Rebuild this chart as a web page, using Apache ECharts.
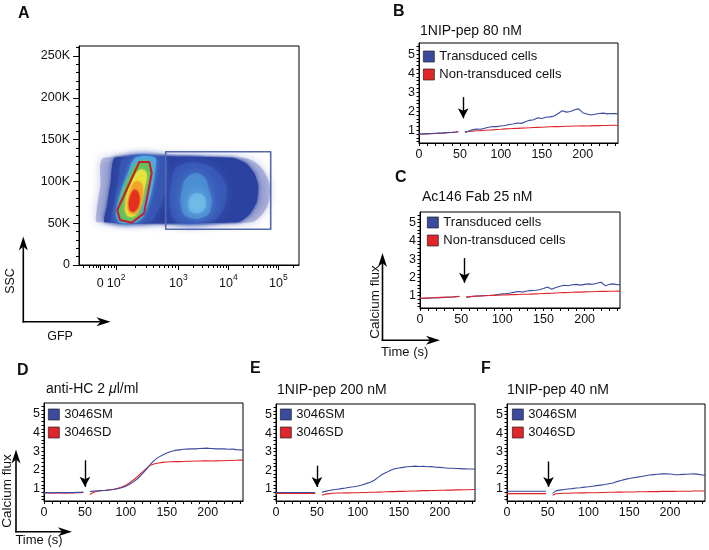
<!DOCTYPE html>
<html>
<head>
<meta charset="utf-8">
<title>Calcium flux figure</title>
<script src="https://cdn.jsdelivr.net/npm/echarts@6.0.0/dist/echarts.min.js"></script>
<style>
html,body{margin:0;padding:0;background:#fff;}
#chart{width:709px;height:550px;}
</style>
</head>
<body>
<div id="chart"></div>
<script>
// ================= DATA =================
// time points (s) shared by all calcium-flux traces (52 s = addition gap)
const time = [0,5,10,15,20,25,30,35,40,45,48,52,56,60,65,70,75,80,85,90,95,100,105,110,115,120,125,130,135,140,145,150,155,160,165,170,175,180,185,190,195,200,205,210,215,220,225,230,235,240,243];

// Panel B: 1NIP-pep 80 nM
const bTransduced = [0.80,0.81,0.82,0.83,0.84,0.85,0.86,0.88,0.89,0.91,0.93,null,0.90,
  0.94,1.02,1.06,1.05,1.10,1.16,1.20,1.19,1.22,1.25,1.30,1.33,1.38,1.36,1.45,1.52,1.55,1.65,1.62,1.68,1.70,1.75,1.88,2.02,1.95,1.98,2.08,2.12,1.92,1.85,1.80,1.84,1.88,1.90,1.86,1.88,1.87,1.85];
const bNonTransduced = [0.79,0.80,0.81,0.82,0.83,0.84,0.85,0.87,0.88,0.90,0.92,null,0.89,
  0.93,0.95,0.97,0.98,1.00,1.01,1.02,1.04,1.05,1.07,1.08,1.09,1.10,1.11,1.12,1.13,1.14,1.15,1.16,1.17,1.18,1.19,1.19,1.20,1.21,1.21,1.22,1.22,1.23,1.22,1.23,1.24,1.24,1.25,1.25,1.26,1.26,1.25];

// Panel C: Ac146 Fab 25 nM
const cTransduced = [0.85,0.86,0.87,0.88,0.89,0.90,0.91,0.92,0.93,0.95,0.96,null,0.92,
  0.94,0.97,0.99,1.00,1.01,1.02,1.04,1.07,1.10,1.12,1.15,1.20,1.23,1.20,1.26,1.28,1.30,1.33,1.40,1.48,1.36,1.45,1.52,1.57,1.55,1.60,1.62,1.58,1.62,1.65,1.63,1.68,1.74,1.55,1.62,1.65,1.60,1.62];
const cNonTransduced = [0.86,0.87,0.88,0.89,0.90,0.91,0.92,0.93,0.94,0.96,0.97,null,0.93,
  0.95,0.97,0.98,0.99,1.00,1.01,1.02,1.03,1.04,1.05,1.06,1.06,1.07,1.08,1.08,1.09,1.10,1.11,1.12,1.13,1.14,1.15,1.16,1.17,1.18,1.19,1.20,1.20,1.21,1.22,1.22,1.23,1.24,1.24,1.25,1.25,1.26,1.25];

// Panel D: anti-HC 2 µl/ml
const d3046SM = [0.78,0.78,0.77,0.78,0.78,0.77,0.78,0.78,0.79,0.80,0.81,null,0.84,
  0.86,0.87,0.89,0.90,0.92,0.95,0.99,1.04,1.12,1.24,1.38,1.55,1.78,2.02,2.30,2.52,2.68,2.80,2.90,2.98,3.04,3.07,3.10,3.11,3.12,3.12,3.14,3.15,3.16,3.14,3.12,3.13,3.12,3.10,3.11,3.08,3.07,3.06];
const d3046SD = [0.76,0.76,0.75,0.76,0.76,0.75,0.76,0.76,0.77,0.78,0.79,null,0.68,
  0.78,0.85,0.88,0.90,0.93,0.96,1.01,1.08,1.18,1.32,1.48,1.67,1.88,2.08,2.25,2.33,2.37,2.40,2.42,2.43,2.44,2.44,2.45,2.46,2.46,2.47,2.47,2.48,2.48,2.47,2.48,2.49,2.49,2.50,2.50,2.51,2.52,2.52];

// Panel E: 1NIP-pep 200 nM
const e3046SM = [0.79,0.79,0.79,0.79,0.79,0.79,0.79,0.79,0.79,0.79,0.79,null,0.80,
  0.85,0.90,0.94,0.97,1.00,1.03,1.07,1.10,1.14,1.20,1.27,1.35,1.45,1.62,1.78,1.88,2.00,2.08,2.12,2.15,2.18,2.20,2.22,2.20,2.21,2.18,2.19,2.16,2.15,2.13,2.10,2.10,2.09,2.08,2.07,2.06,2.06,2.05];
const e3046SD = [0.74,0.74,0.74,0.74,0.74,0.74,0.74,0.74,0.74,0.74,0.74,null,0.64,
  0.70,0.73,0.75,0.76,0.76,0.77,0.77,0.78,0.78,0.79,0.79,0.80,0.80,0.81,0.82,0.83,0.84,0.84,0.85,0.85,0.86,0.87,0.87,0.88,0.89,0.89,0.90,0.90,0.91,0.91,0.92,0.92,0.93,0.93,0.94,0.94,0.95,0.95];

// Panel F: 1NIP-pep 40 nM
const f3046SM = [0.86,0.86,0.86,0.86,0.86,0.86,0.86,0.86,0.86,0.86,0.86,null,0.74,
  0.88,0.92,0.95,0.98,1.00,1.03,1.05,1.08,1.10,1.13,1.16,1.19,1.22,1.26,1.30,1.38,1.44,1.50,1.55,1.59,1.62,1.66,1.70,1.74,1.76,1.78,1.80,1.80,1.79,1.76,1.75,1.77,1.78,1.79,1.80,1.77,1.74,1.73];
const f3046SD = [0.73,0.73,0.73,0.73,0.73,0.73,0.73,0.73,0.73,0.73,0.73,null,0.64,
  0.72,0.74,0.75,0.75,0.76,0.76,0.77,0.77,0.78,0.78,0.78,0.79,0.79,0.80,0.80,0.81,0.81,0.82,0.82,0.82,0.83,0.83,0.83,0.84,0.84,0.84,0.85,0.85,0.85,0.85,0.86,0.86,0.86,0.86,0.87,0.87,0.87,0.87];

// stimulus arrows (time, top value, tip value) for panels B..F
const stimulusTime = [54, 54, 50, 50, 51];
const stimulusArrowTop = [2.74, 3.06, 2.51, 2.24, 2.47];
const stimulusArrowTip = [1.63, 1.71, 1.09, 1.09, 1.09];

// tick labels
const fluxTickValues = [1, 2, 3, 4, 5];
const timeTickValues = [0, 50, 100, 150, 200];
const sscTickValues = [0, 50, 100, 150, 200, 250];          // in K
const gfpTickValues = [1.44, 1.756, 3, 4, 5];                 // display (decade) units
const gfpTickLabels = ['{b|0}', '{b|10}{s|2}', '{b|10}{s|3}', '{b|10}{s|4}', '{b|10}{s|5}'];

// Panel A: density levels, points are [GFP display units, SSC in K]
const densityHalo = [[1.52,128.3],[4.3,128.3],[4.62,119],[4.82,98],[4.78,70],[4.45,51.1],[1.38,51.1],[1.36,62],[1.44,95]];
const densityMain = [[1.73,128.3],[4.09,128.3],[4.35,122],[4.52,110],[4.6,95],[4.57,75],[4.42,60],[4.2,51.1],[1.53,51.1],[1.57,70],[1.65,100]];
const densityLeftMid = [[1.92,128.3],[2.72,128.3],[2.78,110],[2.7,80],[2.55,60],[2.4,51.1],[1.68,51.1],[1.7,68],[1.8,100]];
const densityRightMid = [[3.0,118],[3.55,120],[3.9,102],[3.95,78],[3.8,58],[3.5,51.1],[3.0,51.1],[2.85,65],[2.85,95]];
const densityRightCyan = [[3.2,106],[3.46,108],[3.62,90],[3.66,70],[3.54,58],[3.2,57],[3.07,66],[3.07,90]];
const densityRightCore = [[3.28,84],[3.48,84],[3.55,74],[3.48,64],[3.28,63],[3.2,72]];
const densityLeftCyan = [[2.15,128.3],[2.53,128.3],[2.54,114],[2.45,84],[2.3,58],[2.14,51.1],[1.82,51.1],[1.76,62],[1.82,82],[1.98,108]];
const densityGreen = [[2.2,123],[2.43,123],[2.46,111],[2.36,88],[2.24,64],[2.12,54],[1.9,54],[1.81,64],[1.87,84],[2.03,108]];
const densityYellow = [[2.24,114],[2.36,110],[2.32,90],[2.22,68],[2.1,58],[1.97,60],[1.94,72],[2.0,90],[2.12,106]];
const densityOrange = [[2.16,100],[2.28,95],[2.26,76],[2.16,62],[2.02,63],[1.99,75],[2.06,92]];
const densityRed = [[2.12,90],[2.21,85],[2.21,72],[2.12,64],[2.03,66],[2.02,78]];

// gates
const gateNonTransduced = [[2.22,123.2],[2.42,123.2],[2.468,109.7],[2.314,61.8],[2.068,50.6],[1.834,53.8],[1.78,65.8]];
const gateTransduced = [[2.748,42.7],[4.848,42.7],[4.848,135.5],[2.748,135.5]];

// ================= BUILD =================
const FONT = '"Liberation Sans", Arial, Helvetica, sans-serif';
const BLUE = '#3a4a9e';
const RED = '#e0252b';
const BLACK = '#000';

const pairs = arr => time.map((t, i) => [t, arr[i] == null ? '-' : arr[i]]);

const densityLayers = [densityHalo, densityMain, densityLeftMid, densityRightMid, densityRightCyan,
  densityRightCore, densityLeftCyan, densityGreen, densityYellow, densityOrange, densityRed];
const densityStyles = [
  {fill:'#3447a6', opacity:0.3, smooth:0.3, blur:8},
  {fill:'#2c42a0', opacity:1, smooth:0.15, blur:4},
  {fill:'#3856b4', opacity:0.9, smooth:0.35, blur:6},
  {fill:'#3a5ab8', opacity:0.9, smooth:0.45, blur:10},
  {fill:'#4f94d6', opacity:0.75, smooth:0.5, blur:12},
  {fill:'#78c6ec', opacity:0.6, smooth:0.5, blur:10},
  {fill:'#4fa8df', opacity:1, smooth:0.3, blur:4},
  {fill:'#62c05e', opacity:1, smooth:0.35, blur:3},
  {fill:'#e9e23c', opacity:1, smooth:0.4, blur:3},
  {fill:'#f4a12c', opacity:1, smooth:0.4, blur:3},
  {fill:'#e2321f', opacity:1, smooth:0.4, blur:2}
];

const linePanels = [
  {grid:{left:419, top:43, width:199, height:100}, legend:{left:423, top:50},
   names:['Transduced cells','Non-transduced cells'], blue:bTransduced, red:bNonTransduced, blueOnTop:true,
   title:'1NIP-pep 80 nM', titlePos:{left:420, top:24}},
  {grid:{left:420, top:212, width:200, height:96}, legend:{left:427, top:216},
   names:['Transduced cells','Non-transduced cells'], blue:cTransduced, red:cNonTransduced, blueOnTop:false,
   title:'Ac146 Fab 25 nM', titlePos:{left:422, top:190}},
  {grid:{left:44, top:403, width:199, height:98}, legend:{left:48, top:408},
   names:['3046SM','3046SD'], blue:d3046SM, red:d3046SD, blueOnTop:true,
   title:'anti-HC 2 {i|\u03bc}l/ml', titlePos:{left:46, top:382}},
  {grid:{left:276, top:404, width:199, height:97}, legend:{left:280, top:408},
   names:['3046SM','3046SD'], blue:e3046SM, red:e3046SD, blueOnTop:true,
   title:'1NIP-pep 200 nM', titlePos:{left:277, top:383}},
  {grid:{left:507, top:404, width:198, height:97}, legend:{left:512, top:408},
   names:['3046SM','3046SD'], blue:f3046SM, red:f3046SD, blueOnTop:true,
   title:'1NIP-pep 40 nM', titlePos:{left:507, top:383}}
];

const grid = [{left:79, top:46, width:220, height:219, show:true, borderColor:BLACK, borderWidth:1}];
const xAxis = [];
const yAxis = [];
const series = [];
const legend = [];
const title = [];

// ---- Panel A axes ----
const gfpMinor = [];
[1.1,1.22,1.3,1.36,1.4,1.52,1.6,1.66,1.71].forEach(v => gfpMinor.push(v));
for (let k = 2; k <= 9; k++) gfpMinor.push(1.756 + (3 - 1.756) * Math.log10(k));
for (let d = 3; d <= 4; d++) for (let k = 2; k <= 9; k++) gfpMinor.push(d + Math.log10(k));
gfpMinor.push(5.301);
xAxis.push({
  gridIndex:0, type:'value', min:1.014, max:5.414, position:'bottom',
  axisLine:{show:true, lineStyle:{color:BLACK, width:1}},
  axisTick:{show:true, customValues:gfpTickValues, length:5, lineStyle:{color:BLACK}},
  axisLabel:{customValues:gfpTickValues, margin:8, color:'#111',
    formatter: v => { const i = gfpTickValues.findIndex(t => Math.abs(t - v) < 1e-6); return i >= 0 ? gfpTickLabels[i] : ''; },
    rich:{b:{fontSize:12.5, fontFamily:FONT, color:'#111', verticalAlign:'bottom', lineHeight:17},
          s:{fontSize:8.5, fontFamily:FONT, color:'#111', verticalAlign:'top', lineHeight:17}}},
  splitLine:{show:false}
});
xAxis.push({
  gridIndex:0, type:'value', min:1.014, max:5.414, position:'bottom',
  axisLine:{show:false}, axisLabel:{show:false}, splitLine:{show:false},
  axisTick:{show:true, customValues:gfpMinor, length:3, lineStyle:{color:BLACK}}
});
const sscMinor = [];
for (let v = 10; v <= 260; v += 10) if (v % 50 !== 0) sscMinor.push(v);
yAxis.push({
  gridIndex:0, type:'value', min:0, max:262, position:'left',
  axisLine:{show:true, lineStyle:{color:BLACK}},
  axisTick:{show:true, customValues:sscTickValues, length:6, lineStyle:{color:BLACK}},
  axisLabel:{customValues:sscTickValues, margin:9, fontSize:12.5, fontFamily:FONT, color:'#111',
    formatter: v => v === 0 ? '0' : v + 'K'},
  splitLine:{show:false}
});
yAxis.push({
  gridIndex:0, type:'value', min:0, max:262, position:'left',
  axisLine:{show:false}, axisLabel:{show:false}, splitLine:{show:false},
  axisTick:{show:true, customValues:sscMinor, length:3, lineStyle:{color:BLACK}}
});

series.push({
  type:'custom', coordinateSystem:'cartesian2d', xAxisIndex:0, yAxisIndex:0, clip:true, silent:true, z:2,
  data: densityLayers.map(l => l[0]),
  renderItem: (params, api) => {
    const st = densityStyles[params.dataIndex];
    const pts = densityLayers[params.dataIndex].map(p => api.coord(p));
    return {type:'polygon', shape:{points:pts, smooth:st.smooth},
      style:{fill:st.fill, opacity:st.opacity, shadowBlur:st.blur, shadowColor:st.fill}};
  }
});
const gates = [gateNonTransduced, gateTransduced];
const gateColors = ['#c41f2a', '#5468ae'];
const gateWidths = [2, 1.6];
series.push({
  type:'custom', coordinateSystem:'cartesian2d', xAxisIndex:0, yAxisIndex:0, clip:true, silent:true, z:5,
  data: gates.map(g => g[0]),
  renderItem: (params, api) => {
    const pts = gates[params.dataIndex].map(p => api.coord(p));
    return {type:'polygon', shape:{points:pts},
      style:{fill:'none', stroke:gateColors[params.dataIndex], lineWidth:gateWidths[params.dataIndex], lineJoin:'round'}};
  }
});

// ---- line panels ----
const timeTicks = [];
for (let v = 0; v <= 240; v += 10) timeTicks.push(v);
const fluxTicks = [];
for (let v = 4; v <= 55; v += 2) fluxTicks.push(v / 10);

linePanels.forEach((p, k) => {
  const gi = k + 1;
  grid.push(Object.assign({show:true, borderColor:BLACK, borderWidth:1}, p.grid));
  const ax = xAxis.length;
  xAxis.push({
    gridIndex:gi, type:'value', min:0, max:243, position:'bottom',
    axisLine:{show:true, lineStyle:{color:BLACK}},
    axisTick:{show:true, customValues:timeTicks, length:3, lineStyle:{color:BLACK}},
    axisLabel:{customValues:timeTickValues, margin:5, fontSize:12.5, fontFamily:FONT, color:'#111'},
    splitLine:{show:false}
  });
  const ay = yAxis.length;
  yAxis.push({
    gridIndex:gi, type:'value', min:0.33, max:5.58, position:'left',
    axisLine:{show:true, lineStyle:{color:BLACK}},
    axisTick:{show:true, customValues:fluxTicks, length:2.5, lineStyle:{color:BLACK}},
    axisLabel:{customValues:fluxTickValues, margin:4, fontSize:12.5, fontFamily:FONT, color:'#111'},
    splitLine:{show:false}
  });
  const blueSeries = {
    name:p.names[0], type:'line', xAxisIndex:ax, yAxisIndex:ay, data:pairs(p.blue),
    showSymbol:false, symbol:'none', connectNulls:false, silent:true, color:BLUE,
    lineStyle:{color:BLUE, width:1.1}, z: p.blueOnTop ? 4 : 3,
    markLine:{
      silent:true, symbol:['none','arrow'], symbolSize:[8,10], animation:false,
      label:{show:false}, lineStyle:{color:BLACK, width:1.4, type:'solid'},
      emphasis:{disabled:true},
      data:[[{coord:[stimulusTime[k], stimulusArrowTop[k]]}, {coord:[stimulusTime[k], stimulusArrowTip[k]]}]]
    }
  };
  const redSeries = {
    name:p.names[1], type:'line', xAxisIndex:ax, yAxisIndex:ay, data:pairs(p.red),
    showSymbol:false, symbol:'none', connectNulls:false, silent:true, color:RED,
    lineStyle:{color:RED, width:1.1}, z: p.blueOnTop ? 3 : 4
  };
  series.push(redSeries, blueSeries);
  legend.push({
    data:[p.names[0], p.names[1]], orient:'vertical', left:p.legend.left, top:p.legend.top,
    icon:'rect', itemWidth:11, itemHeight:11, itemGap:5, padding:0, selectedMode:false,
    itemStyle:{borderColor:'#222', borderWidth:0.7},
    textStyle:{fontSize:13, fontFamily:FONT, color:'#111'}
  });
  title.push({
    text:p.title, left:p.titlePos.left, top:p.titlePos.top, padding:0,
    textStyle:{fontSize:14, fontWeight:'normal', fontFamily:FONT, color:'#111',
      rich:{i:{fontSize:14, fontStyle:'italic', fontFamily:FONT, color:'#111'}}}
  });
});

// panel letters
[['A',18,6],['B',393,4],['C',395,170],['D',17,363],['E',250,361],['F',481,361]].forEach(l => {
  title.push({text:l[0], left:l[1], top:l[2], padding:0,
    textStyle:{fontSize:16, fontWeight:'bold', fontFamily:FONT, color:'#111'}});
});

// axis-direction arrows and labels
function arrow(x1, y1, x2, y2) {
  const ang = Math.atan2(y2 - y1, x2 - x1);
  const L = 14, W = 4.5, N = 10;
  const ux = Math.cos(ang), uy = Math.sin(ang), px = -uy, py = ux;
  const bx = x2 - ux * L, by = y2 - uy * L;
  const nx = x2 - ux * N, ny = y2 - uy * N;
  return [
    {type:'line', silent:true, shape:{x1:x1, y1:y1, x2:nx, y2:ny}, style:{stroke:BLACK, lineWidth:1.6}},
    {type:'polygon', silent:true, shape:{points:[[x2,y2],[bx+px*W,by+py*W],[nx,ny],[bx-px*W,by-py*W]]}, style:{fill:BLACK}}
  ];
}
function label(text, x, y, rot, size) {
  return {type:'text', silent:true, x:x, y:y, rotation:rot,
    style:{text:text, fontSize:size, fontFamily:FONT, fill:'#111', align:'center', verticalAlign:'middle'}};
}
const graphic = [].concat(
  arrow(23.3, 322.5, 23.3, 236.5), arrow(22.5, 321.7, 110.5, 321.7),
  [label('SSC', 10.5, 281, Math.PI / 2, 12.5), label('GFP', 60, 337, 0, 12.5)],
  arrow(382.5, 341, 382.5, 253), arrow(381.7, 340.2, 440, 340.2),
  [label('Calcium flux', 375.5, 302, Math.PI / 2, 13.5), label('Time (s)', 404.7, 352, 0, 13)],
  arrow(16, 532.5, 16, 449.5), arrow(15.2, 531.7, 72, 531.7),
  [label('Calcium flux', 7.5, 491, Math.PI / 2, 13.5), label('Time (s)', 39, 540, 0, 13)]
);

const option = {
  animation:false,
  backgroundColor:'#fff',
  textStyle:{fontFamily:FONT},
  title:title,
  legend:legend,
  grid:grid,
  xAxis:xAxis,
  yAxis:yAxis,
  graphic:graphic,
  series:series
};

const chart = echarts.init(document.getElementById('chart'), null, {renderer:'canvas'});
chart.setOption(option);
</script>
</body>
</html>
